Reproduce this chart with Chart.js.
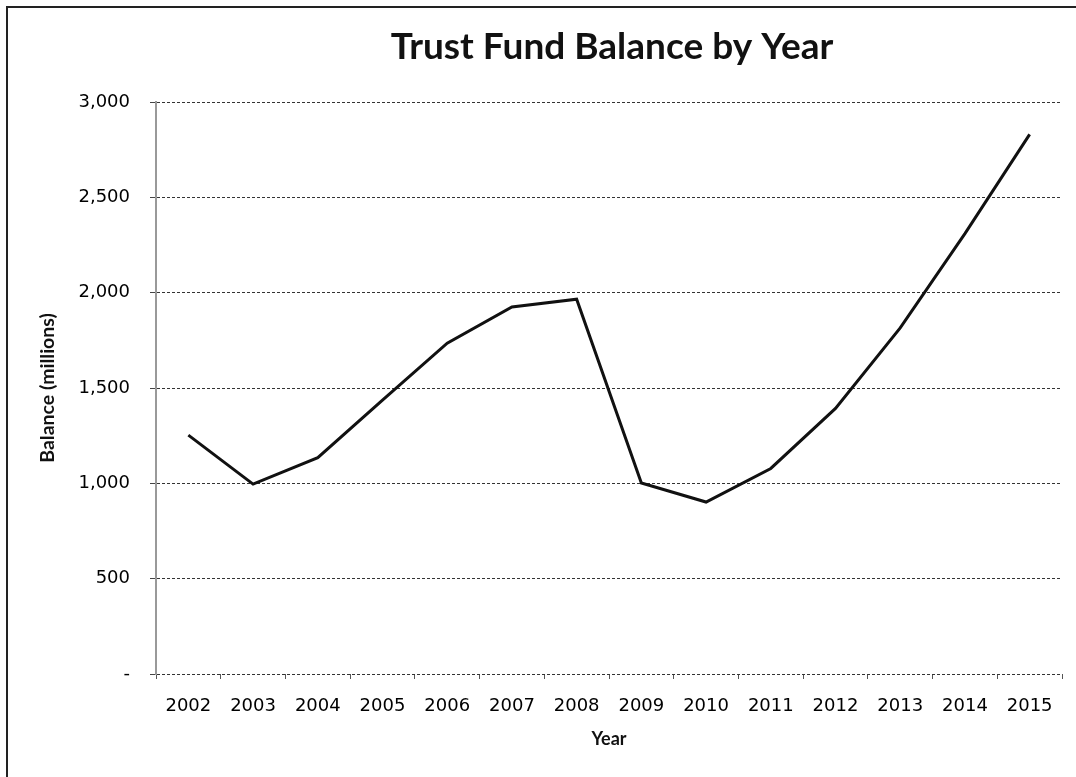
<!DOCTYPE html>
<html>
<head>
<meta charset="utf-8">
<title>Trust Fund Balance by Year</title>
<script src="https://cdn.jsdelivr.net/npm/chart.js@4.4.1/dist/chart.umd.min.js"></script>
<style>
  html, body { margin: 0; padding: 0; background: #fff; overflow: hidden; }
  #wrap { position: relative; width: 1076px; height: 777px; }
  #frame {
    position: absolute; left: 6px; top: 6px; width: 1200px; height: 900px;
    border-left: 2px solid #222; border-top: 2px solid #222; pointer-events: none;
  }
  canvas { position: absolute; left: 0; top: 0; }
</style>
</head>
<body>
<div id="wrap">
  <canvas id="balanceChart" width="1076" height="777"></canvas>
  <div id="frame"></div>
</div>
<script>
// ---- data ---------------------------------------------------------------
const years = ['2002', '2003', '2004', '2005', '2006', '2007', '2008',
               '2009', '2010', '2011', '2012', '2013', '2014', '2015'];
const balances = [1253, 996, 1135, 1437, 1735, 1925, 1966,
                  1002, 902, 1078, 1393, 1815, 2310, 2830];
const yTicks = [0, 500, 1000, 1500, 2000, 2500, 3000];

const TITLE = 'Trust Fund Balance by Year';
const TICK_FONT = { family: '"DejaVu Sans", sans-serif', size: 18 };

// Excel-style accounting labels: zero shows as a dash
function fmtBalance(v) {
  return v === 0 ? '-' : v.toLocaleString('en-US');
}

// title drawn over the plot area (Excel centres it on the plot, not the canvas)
const plotTitle = {
  id: 'plotTitle',
  afterDraw(chart) {
    const { ctx, chartArea } = chart;
    ctx.save();
    ctx.font = 'bold 37px Lato, sans-serif';
    ctx.fillStyle = '#111';
    ctx.textAlign = 'center';
    ctx.textBaseline = 'alphabetic';
    ctx.fillText(TITLE, (chartArea.left + chartArea.right) / 2 + 3, 59);
    ctx.restore();
  },
};

new Chart(document.getElementById('balanceChart').getContext('2d'), {
  type: 'line',
  data: {
    labels: years,
    datasets: [{
      label: 'Balance',
      data: balances,
      borderColor: '#111',
      borderWidth: 3,
      pointRadius: 0,
      tension: 0,
      fill: false,
    }],
  },
  options: {
    responsive: false,
    animation: false,
    layout: { padding: { top: 102, right: 14, bottom: 0, left: 0 } },
    plugins: {
      legend: { display: false },
      tooltip: { enabled: false },
    },
    scales: {
      x: {
        offset: true,
        afterFit: (s) => { s.height = 103; },
        grid: {
          offset: true, drawOnChartArea: false, drawTicks: true,
          tickLength: 5, tickColor: '#555', tickWidth: 1,
        },
        border: { display: false },
        ticks: { color: '#000', font: TICK_FONT, padding: 17, maxRotation: 0, autoSkip: false },
        title: {
          display: true, text: 'Year', color: '#111',
          font: { family: 'Lato, sans-serif', size: 18, weight: 'bold' },
          padding: { top: 0, bottom: 27 },
        },
      },
      y: {
        min: 0,
        max: 3000,
        afterFit: (s) => { s.width = 156; },
        afterBuildTicks: (s) => { s.ticks = yTicks.map((v) => ({ value: v })); },
        grid: { color: '#333', lineWidth: 1, tickLength: 6, tickColor: '#444' },
        border: { display: true, color: '#999', width: 2, dash: [3, 2] },
        ticks: { color: '#000', font: TICK_FONT, padding: 20, callback: fmtBalance },
        title: {
          display: true, text: 'Balance (millions)', color: '#111',
          font: { family: 'Lato, sans-serif', size: 19.5, weight: 'bold' },
          padding: { top: 36, bottom: 0 },
        },
      },
    },
  },
  plugins: [plotTitle],
});
</script>
</body>
</html>
